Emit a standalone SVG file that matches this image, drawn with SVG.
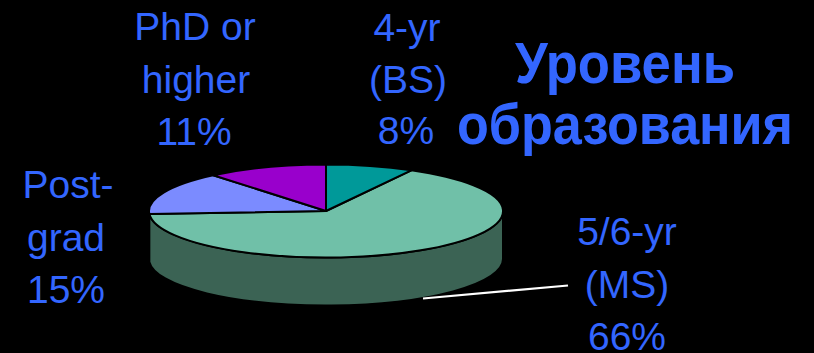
<svg xmlns="http://www.w3.org/2000/svg" width="814" height="353" viewBox="0 0 814 353">
<style>
.lbl{font-family:"Liberation Sans",Arial,sans-serif;font-size:39px;fill:#3366FF;text-anchor:middle}
.ttl{font-family:"Liberation Sans",Arial,sans-serif;font-size:58px;font-weight:bold;fill:#3366FF;text-anchor:middle}
.edge{stroke:#000;stroke-width:2;stroke-linejoin:round}
</style>
<rect width="814" height="353" fill="#000"/>
<g id="pie">
  <g id="side">
    <path class="edge" fill="#3B6354" d="M503,211 A177,46.5 0 0,1 149.35,213.9 L149.35,261.9 A177,46.5 0 0,0 503,259 Z"/>
  </g>
  <g id="slice-ms">
    <path class="edge" fill="#70C0A8" d="M326,211 L411.3,170.3 A177,46.5 0 1,1 149.35,213.9 Z"/>
  </g>
  <g id="slice-bs">
    <path class="edge" fill="#009999" d="M326,211 L326,164.5 A177,46.5 0 0,1 411.3,170.3 Z"/>
  </g>
  <g id="slice-postgrad">
    <path class="edge" fill="#7B8BFF" d="M326,211 L149.35,213.9 A177,46.5 0 0,1 213.2,175.2 Z"/>
  </g>
  <g id="slice-phd">
    <path class="edge" fill="#9900CC" d="M326,211 L213.2,175.2 A177,46.5 0 0,1 326,164.5 Z"/>
  </g>
</g>
<g id="connectors">
  <line x1="423" y1="298.5" x2="568" y2="285.5" stroke="#fff" stroke-width="2.2"/>
</g>
<g id="label-phd">
  <text class="lbl" x="195" y="40">PhD or</text>
  <text class="lbl" x="196" y="92.5">higher</text>
  <text class="lbl" x="194" y="144.5">11%</text>
</g>
<g id="label-bs">
  <text class="lbl" x="407" y="41">4-yr</text>
  <text class="lbl" x="408" y="92.5">(BS)</text>
  <text class="lbl" x="406" y="144">8%</text>
</g>
<g id="label-postgrad">
  <text class="lbl" x="68" y="198">Post-</text>
  <text class="lbl" x="66" y="251">grad</text>
  <text class="lbl" x="66" y="303">15%</text>
</g>
<g id="label-ms">
  <text class="lbl" x="627" y="245">5/6-yr</text>
  <text class="lbl" x="627" y="298">(MS)</text>
  <text class="lbl" x="627" y="350">66%</text>
</g>
<g id="title">
  <text class="ttl" x="625" y="82.5" textLength="220" lengthAdjust="spacingAndGlyphs">Уровень</text>
  <text class="ttl" x="625" y="144" textLength="336" lengthAdjust="spacingAndGlyphs">образования</text>
</g>
</svg>
